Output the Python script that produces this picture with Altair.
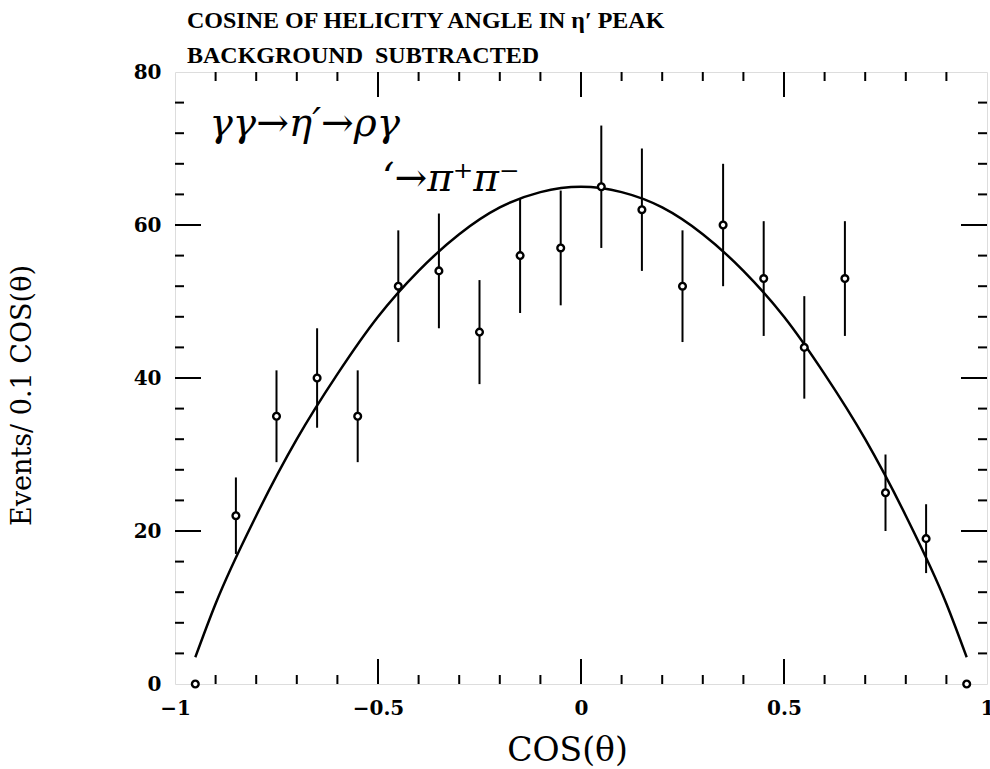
import altair as alt
import pandas as pd

# ---- data ----
pt_x = [-0.95, -0.85, -0.75, -0.65, -0.55, -0.45, -0.35, -0.25, -0.15, -0.05,
        0.05, 0.15, 0.25, 0.35, 0.45, 0.55, 0.65, 0.75, 0.85, 0.95]
pt_y = [0, 22, 35, 40, 35, 52, 54, 46, 56, 57,
        65, 62, 52, 60, 53, 44, 53, 25, 19, 0]
err_lo = [None, 17, 29, 33.5, 29, 44.7, 46.5, 39.2, 48.5, 49.5,
          57, 54, 44.7, 52, 45.5, 37.3, 45.5, 20, 14.5, None]
err_hi = [None, 27, 41, 46.5, 41, 59.3, 61.5, 52.8, 63.5, 64.5,
          73, 70, 59.3, 68, 60.5, 50.7, 60.5, 30, 23.5, None]

fit_x = [-0.95, -0.9, -0.8, -0.7, -0.6, -0.5, -0.4, -0.3, -0.2, -0.1, 0.0,
         0.1, 0.2, 0.3, 0.4, 0.5, 0.6, 0.7, 0.8, 0.9, 0.95]
fit_y = [3.5, 10.5, 22, 32, 40.5, 48, 54, 58.8, 62.3, 64.3, 65,
         64.3, 62.3, 58.8, 54, 48, 40.5, 32, 22, 10.5, 3.5]

x_major = [-0.5, 0.0, 0.5]
x_minor = [-0.9, -0.8, -0.7, -0.6, -0.4, -0.3, -0.2, -0.1,
           0.1, 0.2, 0.3, 0.4, 0.6, 0.7, 0.8, 0.9]
y_major = [20, 40, 60]
y_minor = [4, 8, 12, 16, 24, 28, 32, 36, 44, 48, 52, 56, 64, 68, 72, 76]
x_labels = [-1, -0.5, 0, 0.5, 1]
y_labels = [0, 20, 40, 60, 80]

title_lines = ["COSINE OF HELICITY ANGLE IN \u03b7\u2032 PEAK",
               "BACKGROUND\u00a0\u00a0SUBTRACTED"]
ann_text = ["\u03b3\u03b3\u2192\u03b7\u2032\u2192\u03c1\u03b3", "\u2018\u2192\u03c0\u207a\u03c0\u207b"]
ann_x = [-0.915, -0.49]
ann_y = [73.2, 66.0]

W, H = 812, 612
SERIF = "DejaVu Serif"

pts = pd.DataFrame({"x": pt_x, "y": pt_y, "lo": err_lo, "hi": err_hi})
fit = pd.DataFrame({"x": fit_x, "y": fit_y})

xscale = alt.Scale(domain=[-1, 1], nice=False, zero=False)
yscale = alt.Scale(domain=[0, 80], nice=False, zero=False)

xaxis = alt.Axis(
    title="COS(\u03b8)", values=x_labels, ticks=False, domain=False, grid=False,
    labelExpr="datum.value == 0 ? '0' : (datum.value < 0 ? '\u2212' : '') + toString(abs(datum.value))",
    labelFont=SERIF, labelFontWeight="bold", labelFontSize=20, labelColor="black",
    labelPadding=14, labelFlush=False, labelOverlap=False,
    titleFont=SERIF, titleFontWeight="normal", titleFontSize=33, titleColor="black",
    titleY=66, titleBaseline="middle", titleX=W / 2 - 14,
)
yaxis = alt.Axis(
    title="Events/ 0.1 COS(\u03b8)", values=y_labels, ticks=False, domain=False, grid=False,
    labelFont=SERIF, labelFontWeight="bold", labelFontSize=20, labelColor="black",
    labelPadding=14, labelFlush=False, labelOverlap=False,
    titleFont=SERIF, titleFontWeight="normal", titleFontSize=27, titleColor="black",
    titleX=-153, titleY=323, titleAngle=-90, titleAlign="center", titleBaseline="middle",
)


def X(field):
    return alt.X(field, type="quantitative", scale=xscale, axis=xaxis)


def Y(field):
    return alt.Y(field, type="quantitative", scale=yscale, axis=yaxis)


curve = alt.Chart(fit).mark_line(color="black", strokeWidth=2.5, interpolate="monotone").encode(
    x=X("x"), y=Y("y"))

bars = alt.Chart(pts).transform_filter("datum.lo != null").mark_rule(
    color="black", strokeWidth=2).encode(x=X("x"), y=Y("lo"), y2="hi")

points = alt.Chart(pts).mark_point(
    shape="circle", size=45, filled=False, fill="white", fillOpacity=1,
    stroke="black", strokeWidth=2.4, opacity=1).encode(x=X("x"), y=Y("y"))


def xticks(vals, length):
    d = pd.DataFrame({"v": vals})
    bottom = alt.Chart(d).mark_rule(color="black", strokeWidth=2).encode(
        x=X("v"), y=alt.value(H), y2=alt.value(H - length))
    top = alt.Chart(d).mark_rule(color="black", strokeWidth=2).encode(
        x=X("v"), y=alt.value(0), y2=alt.value(length))
    return [bottom, top]


def yticks(vals, length):
    d = pd.DataFrame({"v": vals})
    left = alt.Chart(d).mark_rule(color="black", strokeWidth=2).encode(
        y=Y("v"), x=alt.value(0), x2=alt.value(length))
    right = alt.Chart(d).mark_rule(color="black", strokeWidth=2).encode(
        y=Y("v"), x=alt.value(W), x2=alt.value(W - length))
    return [left, right]


ticks = xticks(x_major, 25) + xticks(x_minor, 9) + yticks(y_major, 26) + yticks(y_minor, 9)

ann = alt.Chart(pd.DataFrame({"x": ann_x, "y": ann_y, "t": ann_text})).mark_text(
    font=SERIF, fontStyle="italic", fontSize=39, align="left", baseline="middle",
    color="black").encode(x=X("x"), y=Y("y"), text="t:N")

chart = alt.layer(curve, bars, points, *ticks, ann).properties(
    width=W, height=H,
    autosize=alt.AutoSizeParams(type="none"),
    padding={"left": 175, "top": 72, "right": 3, "bottom": 85},
    title=alt.TitleParams(
        text=title_lines, anchor="start", frame="group", dx=12, offset=-6,
        font="Liberation Serif", fontWeight="bold", fontSize=24, lineHeight=35,
        color="black"),
).configure_view(stroke="black", strokeWidth=2.5).configure(background="white")

chart.save("out.html", embed_options={"renderer": "svg", "actions": False})
